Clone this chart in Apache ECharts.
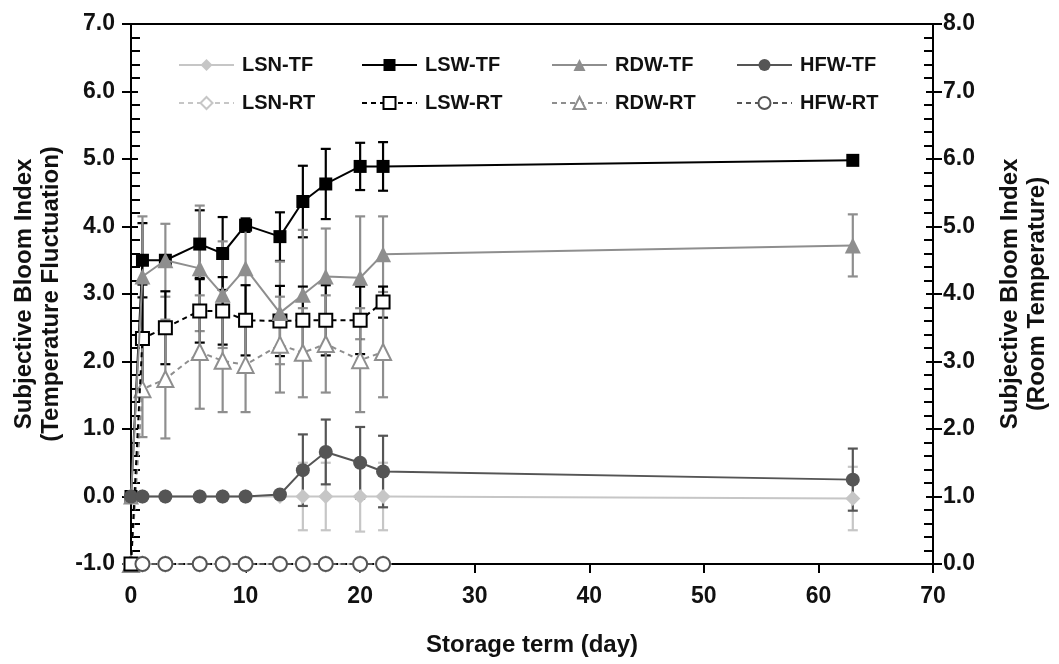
<!DOCTYPE html>
<html><head><meta charset="utf-8">
<script src="https://cdn.jsdelivr.net/npm/echarts@6/dist/echarts.min.js"></script>
<style>html,body{margin:0;padding:0;background:#fff}#c{width:1059px;height:664px}</style>
</head><body><div id="c"></div>
<script>
// ---- data ----
const daysTF = [0, 1, 3, 6, 8, 10, 13, 15, 17, 20, 22, 63];
const daysRT = [0, 1, 3, 6, 8, 10, 13, 15, 17, 20, 22];

// TF series: left axis (Temperature Fluctuation)
const lsnTF    = [0, 0, 0, 0, 0, 0, 0, 0, 0, 0, 0, -0.03];
const lsnTFErr = [0, 0, 0, 0, 0, 0, 0, 0.5, 0.5, 0.52, 0.5, 0.47];
const lswTF    = [0, 3.50, 3.50, 3.74, 3.60, 4.02, 3.85, 4.37, 4.63, 4.89, 4.89, 4.98];
const lswTFErr = [0, 0.55, 0, 0.5, 0.54, 0.1, 0.36, 0.53, 0.52, 0.35, 0.36, 0];
const rdwTF    = [0, 3.26, 3.50, 3.38, 2.99, 3.38, 2.72, 2.99, 3.26, 3.24, 3.59, 3.72];
const rdwTFErr = [0, 0.89, 0.54, 0.93, 0.79, 0.71, 0.76, 0.96, 0.71, 0.91, 0.56, 0.46];
const hfwTF    = [0, 0, 0, 0, 0, 0, 0.03, 0.39, 0.66, 0.50, 0.37, 0.25];
const hfwTFErr = [0, 0, 0, 0, 0, 0, 0, 0.53, 0.48, 0.53, 0.53, 0.46];

// RT series: right axis (Room Temperature)
const lsnRT    = [0, 0, 0, 0, 0, 0, 0, 0, 0, 0, 0];
const lsnRTErr = [0, 0, 0, 0, 0, 0, 0, 0, 0, 0, 0];
const lswRT    = [0, 3.34, 3.50, 3.75, 3.75, 3.61, 3.60, 3.61, 3.61, 3.61, 3.88];
const lswRTErr = [0, 0.8, 0.54, 0.47, 0.5, 0.52, 0.52, 0.5, 0.52, 0.5, 0.23];
const rdwRT    = [0, 2.59, 2.74, 3.14, 3.01, 2.95, 3.25, 3.13, 3.26, 3.02, 3.14];
const rdwRTErr = [0, 0.71, 0.88, 0.84, 0.76, 0.7, 0.71, 0.66, 0.72, 0.77, 0.67];
const hfwRT    = [null, 0, 0, 0, 0, 0, 0, 0, 0, 0, 0];
const hfwRTErr = [0, 0, 0, 0, 0, 0, 0, 0, 0, 0, 0];

const xTicks = [0, 10, 20, 30, 40, 50, 60, 70];
const xAxisTitle = 'Storage term (day)';
const leftTitle = 'Subjective Bloom Index\n(Temperature Fluctuation)';
const rightTitle = 'Subjective Bloom Index\n(Room Temperature)';

// ---- styling ----
const FONT = '"Liberation Sans", Arial, sans-serif';
const C = { LSN: '#c6c6c6', LSW: '#000000', RDW: '#8e8e8e', HFW: '#555555' };

function pts(xs, ys) { return xs.map((x, i) => [x, ys[i]]); }
function errPts(xs, ys, es) { return xs.map((x, i) => [x, ys[i], es[i]]); }

function errSeries(name, xs, ys, es, color, yIdx) {
  return {
    type: 'custom', name: name + ' err', yAxisIndex: yIdx, z: 1, silent: true,
    data: errPts(xs, ys, es),
    renderItem: function (params, api) {
      const x = api.value(0), y = api.value(1), e = api.value(2);
      if (y == null || isNaN(y) || !e) return null;
      const top = api.coord([x, y + e]);
      const bot = api.coord([x, y - e]);
      const w = 5;
      const st = { stroke: color, lineWidth: 2.2 };
      return { type: 'group', children: [
        { type: 'line', shape: { x1: top[0], y1: top[1], x2: bot[0], y2: bot[1] }, style: st },
        { type: 'line', shape: { x1: top[0] - w, y1: top[1], x2: top[0] + w, y2: top[1] }, style: st },
        { type: 'line', shape: { x1: bot[0] - w, y1: bot[1], x2: bot[0] + w, y2: bot[1] }, style: st }
      ]};
    }
  };
}

function lineSeries(name, xs, ys, color, symbol, size, open, dashed, yIdx, z) {
  return {
    type: 'line', name: name, yAxisIndex: yIdx, z: z,
    data: pts(xs, ys), symbol: symbol, symbolSize: size, showSymbol: true,
    connectNulls: false,
    lineStyle: { color: color, width: 2, type: dashed ? [5, 4] : 'solid' },
    itemStyle: open ? { color: '#ffffff', borderColor: color, borderWidth: 2 } : { color: color, borderColor: color, borderWidth: 0 },
    emphasis: { disabled: true }
  };
}

const series = [
  errSeries('LSN-TF', daysTF, lsnTF, lsnTFErr, C.LSN, 0),
  errSeries('LSW-TF', daysTF, lswTF, lswTFErr, C.LSW, 0),
  errSeries('RDW-TF', daysTF, rdwTF, rdwTFErr, C.RDW, 0),
  errSeries('HFW-TF', daysTF, hfwTF, hfwTFErr, C.HFW, 0),
  errSeries('LSN-RT', daysRT, lsnRT, lsnRTErr, C.LSN, 1),
  errSeries('LSW-RT', daysRT, lswRT, lswRTErr, C.LSW, 1),
  errSeries('RDW-RT', daysRT, rdwRT, rdwRTErr, C.RDW, 1),
  errSeries('HFW-RT', daysRT, hfwRT, hfwRTErr, C.HFW, 1),
  lineSeries('LSN-TF', daysTF, lsnTF, C.LSN, 'diamond', 15, false, false, 0, 2),
  lineSeries('LSN-RT', daysRT, lsnRT, C.LSN, 'diamond', 15, true, true, 1, 2),
  lineSeries('RDW-RT', daysRT, rdwRT, C.RDW, 'triangle', 16, true, true, 1, 3),
  lineSeries('LSW-TF', daysTF, lswTF, C.LSW, 'rect', 13, false, false, 0, 4),
  lineSeries('LSW-RT', daysRT, lswRT, C.LSW, 'rect', 13, true, true, 1, 4),
  lineSeries('RDW-TF', daysTF, rdwTF, C.RDW, 'triangle', 16, false, false, 0, 5),
  lineSeries('HFW-TF', daysTF, hfwTF, C.HFW, 'circle', 14, false, false, 0, 6),
  lineSeries('HFW-RT', daysRT, hfwRT, C.HFW, 'circle', 14, true, true, 1, 6)
];

const legendCols = [['LSN-TF', 'LSN-RT'], ['LSW-TF', 'LSW-RT'], ['RDW-TF', 'RDW-RT'], ['HFW-TF', 'HFW-RT']];
const legendLeft = [173, 356, 546, 731];
const legends = legendCols.map((d, i) => ({
  orient: 'vertical', left: legendLeft[i], top: 50, itemGap: 18,
  itemWidth: 55, itemHeight: 15, selectedMode: false,
  data: d,
  textStyle: { fontFamily: FONT, fontWeight: 'bold', fontSize: 20, color: '#111', padding: [0, 0, 0, 3] }
}));

const labelStyle = { fontFamily: FONT, fontWeight: 'bold', fontSize: 23, color: '#111' };
const nameStyle = { fontFamily: FONT, fontWeight: 'bold', fontSize: 24, color: '#111', lineHeight: 27 };
const axLine = { show: true, onZero: false, lineStyle: { color: '#000', width: 2 } };

function yMain(pos, min, max, name, gap, margin) {
  return {
    type: 'value', position: pos, min: min, max: max, interval: 1,
    name: name, nameLocation: 'middle', nameRotate: 90, nameGap: gap, nameTextStyle: nameStyle,
    axisLine: axLine,
    axisTick: { show: true, inside: false, length: 9, lineStyle: { color: '#000', width: 2 } },
    minorTick: { show: false },
    axisLabel: Object.assign({ margin: margin, formatter: v => v.toFixed(1) }, labelStyle),
    splitLine: { show: false }
  };
}
function yMinor(pos, min, max) {
  return {
    type: 'value', position: pos, min: min, max: max, interval: 1,
    axisLine: { show: false, onZero: false },
    axisTick: { show: true, inside: true, length: 7, lineStyle: { color: '#000', width: 2 } },
    minorTick: { show: true, splitNumber: 5, length: 9, lineStyle: { color: '#000', width: 2 } },
    axisLabel: { show: false }, splitLine: { show: false }
  };
}

const option = {
  animation: false,
  backgroundColor: '#ffffff',
  grid: { left: 131, right: 119, top: 24, bottom: 95, show: true, borderColor: '#000', borderWidth: 2, backgroundColor: 'transparent' },
  legend: legends,
  xAxis: {
    type: 'value', min: xTicks[0], max: xTicks[xTicks.length - 1], interval: xTicks[1] - xTicks[0],
    name: xAxisTitle, nameLocation: 'middle', nameGap: 68, nameTextStyle: nameStyle,
    axisLine: axLine,
    axisTick: { show: true, length: 9, lineStyle: { color: '#000', width: 2 } },
    axisLabel: Object.assign({ margin: 21 }, labelStyle),
    splitLine: { show: false }
  },
  yAxis: [
    yMain('left', -1, 7, leftTitle, 63, 16),
    yMain('right', 0, 8, rightTitle, 64, 10),
    yMinor('left', -1, 7),
    yMinor('right', 0, 8)
  ],
  series: series
};

const chart = echarts.init(document.getElementById('c'), null, { renderer: 'canvas' });
chart.setOption(option);
</script></body></html>
